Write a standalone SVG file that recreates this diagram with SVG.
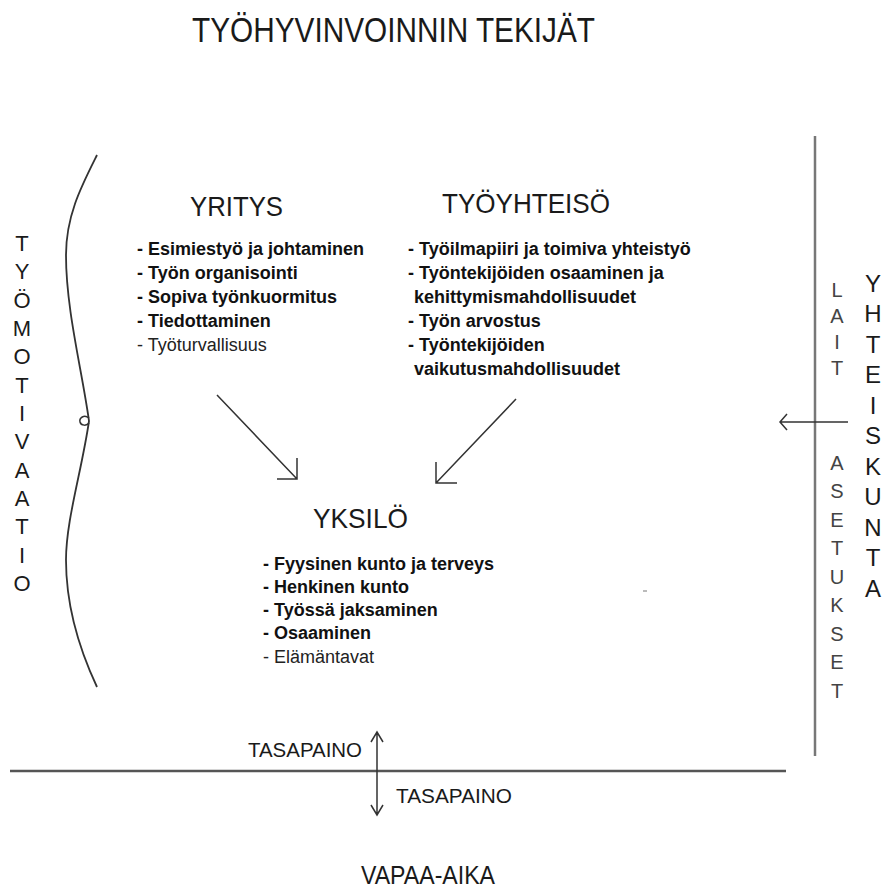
<svg xmlns="http://www.w3.org/2000/svg" width="885" height="896" viewBox="0 0 885 896">
<style>
.t{font-family:"Liberation Sans",Arial,sans-serif;fill:#1a1a1a}
.h{font-size:28px}
.b{font-size:18px;font-weight:bold;fill:#111}
.n{font-size:18px;fill:#222}
.v{font-size:22px;text-anchor:middle}
.vy{font-size:24px;text-anchor:middle}
.vs{font-size:20px;text-anchor:middle;fill:#444}
.ln{fill:none;stroke:#333;stroke-width:1.5}
</style>
<rect width="885" height="896" fill="#fff"/>
<text id="title" class="t" x="192" y="42" font-size="35" textLength="403" lengthAdjust="spacingAndGlyphs">TYÖHYVINVOINNIN TEKIJÄT</text>

<g id="tyomotivaatio">
<path d="M97,155 C82,185 66,215 66,255 C66,310 82,370 89,421 C82,470 66,520 66,560 C66,610 82,655 97,687" fill="none" stroke="#333" stroke-width="1.8"/>
<path d="M89,418 C84,414 79,418 80,422 C81,426 87,426 89,423" fill="none" stroke="#333" stroke-width="1.5"/>
<text class="t v" x="22" y="251">T</text>
<text class="t v" x="22" y="279">Y</text>
<text class="t v" x="22" y="308">Ö</text>
<text class="t v" x="22" y="336">M</text>
<text class="t v" x="22" y="364">O</text>
<text class="t v" x="22" y="393">T</text>
<text class="t v" x="22" y="421">I</text>
<text class="t v" x="22" y="449">V</text>
<text class="t v" x="22" y="478">A</text>
<text class="t v" x="22" y="506">A</text>
<text class="t v" x="22" y="534">T</text>
<text class="t v" x="22" y="563">I</text>
<text class="t v" x="22" y="591">O</text>
</g>

<g id="yritys">
<text class="t h" x="190" y="216" textLength="93" lengthAdjust="spacingAndGlyphs">YRITYS</text>
<text class="t b" x="137" y="255">- Esimiestyö ja johtaminen</text>
<text class="t b" x="137" y="279">- Työn organisointi</text>
<text class="t b" x="137" y="303">- Sopiva työnkuormitus</text>
<text class="t b" x="137" y="327">- Tiedottaminen</text>
<text class="t n" x="137" y="351">- Työturvallisuus</text>
</g>

<g id="tyoyhteiso">
<text class="t h" x="442" y="213" textLength="168" lengthAdjust="spacingAndGlyphs">TYÖYHTEISÖ</text>
<text class="t b" x="408" y="255">- Työilmapiiri ja toimiva yhteistyö</text>
<text class="t b" x="408" y="279">- Työntekijöiden osaaminen ja</text>
<text class="t b" x="414" y="303">kehittymismahdollisuudet</text>
<text class="t b" x="408" y="327">- Työn arvostus</text>
<text class="t b" x="408" y="351">- Työntekijöiden</text>
<text class="t b" x="414" y="375">vaikutusmahdollisuudet</text>
</g>

<g id="yksilo">
<text class="t h" x="313" y="528" textLength="95" lengthAdjust="spacingAndGlyphs">YKSILÖ</text>
<text class="t b" x="263" y="570">- Fyysinen kunto ja terveys</text>
<text class="t b" x="263" y="593">- Henkinen kunto</text>
<text class="t b" x="263" y="616">- Työssä jaksaminen</text>
<text class="t b" x="263" y="639">- Osaaminen</text>
<text class="t n" x="263" y="663">- Elämäntavat</text>
</g>

<g id="yhteiskunta">
<line x1="815" y1="136" x2="815" y2="756" stroke="#777" stroke-width="2.5"/>
<text class="t vy" x="873" y="292">Y</text>
<text class="t vy" x="873" y="322">H</text>
<text class="t vy" x="873" y="353">T</text>
<text class="t vy" x="873" y="383">E</text>
<text class="t vy" x="873" y="414">I</text>
<text class="t vy" x="873" y="444">S</text>
<text class="t vy" x="873" y="475">K</text>
<text class="t vy" x="873" y="505">U</text>
<text class="t vy" x="873" y="536">N</text>
<text class="t vy" x="873" y="566">T</text>
<text class="t vy" x="873" y="597">A</text>
<text class="t vs" x="837" y="297">L</text>
<text class="t vs" x="837" y="323">A</text>
<text class="t vs" x="837" y="349">I</text>
<text class="t vs" x="837" y="375">T</text>
<text class="t vs" x="837" y="470">A</text>
<text class="t vs" x="837" y="498">S</text>
<text class="t vs" x="837" y="527">E</text>
<text class="t vs" x="837" y="555">T</text>
<text class="t vs" x="837" y="584">U</text>
<text class="t vs" x="837" y="612">K</text>
<text class="t vs" x="837" y="641">S</text>
<text class="t vs" x="837" y="669">E</text>
<text class="t vs" x="837" y="698">T</text>
</g>

<g id="vapaa-aika">
<line x1="10" y1="771" x2="786" y2="771" stroke="#555" stroke-width="2.5"/>
<text class="t" x="248" y="757" font-size="20" textLength="114" lengthAdjust="spacingAndGlyphs">TASAPAINO</text>
<text class="t" x="396" y="803" font-size="20" textLength="116" lengthAdjust="spacingAndGlyphs">TASAPAINO</text>
<text class="t" x="361" y="884" font-size="26" textLength="134" lengthAdjust="spacingAndGlyphs">VAPAA-AIKA</text>
</g>

<g id="connectors">
<path class="ln" d="M217,395 L297,479 M277,479 L297,479 L297,458"/>
<path class="ln" d="M516,399 L436,483 M436,462 L436,483 L457,483"/>
<path class="ln" d="M848,422 L780,422 M787,414 L780,422 L787,430"/>
<path class="ln" d="M377,732 L377,815 M371,742 L377,732 L383,742 M371,805 L377,815 L383,805"/>
</g>
<rect x="643" y="590" width="4" height="2" fill="#bbb"/>
</svg>
